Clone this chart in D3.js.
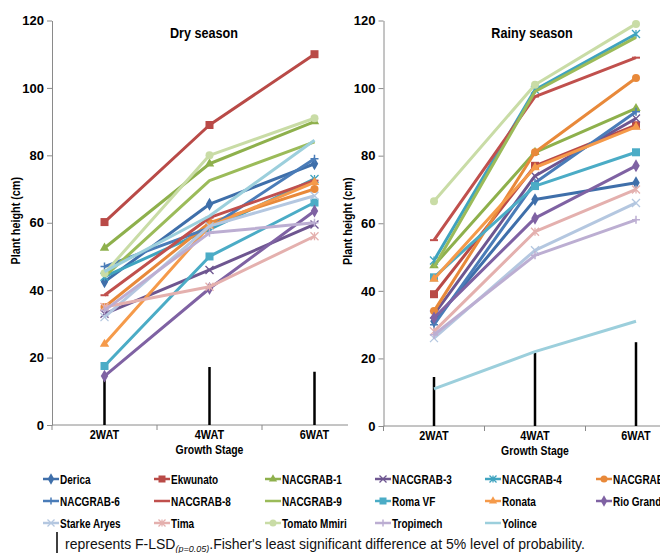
<!DOCTYPE html>
<html>
<head>
<meta charset="utf-8">
<script src="https://cdn.jsdelivr.net/npm/d3@7"></script>
<style>
  html, body { margin: 0; padding: 0; background: #fff; }
  svg { display: block; }
  .tick text { font-family: "Liberation Sans", Arial, sans-serif; font-weight: bold; font-size: 13px; fill: #000; }
</style>
</head>
<body>
<svg id="chart" width="660" height="553"></svg>
<script>
// Growth stages (weeks after transplanting)
const stages = ["2WAT", "4WAT", "6WAT"];
const yTicks = [0, 20, 40, 60, 80, 100, 120];

// Variety names, in legend order
const varieties = ["Derica", "Ekwunato", "NACGRAB-1", "NACGRAB-3", "NACGRAB-4", "NACGRAB-5",
  "NACGRAB-6", "NACGRAB-8", "NACGRAB-9", "Roma VF", "Ronata", "Rio Grande",
  "Starke Aryes", "Tima", "Tomato Mmiri", "Tropimech", "Yolince"];

// Plant height (cm), dry season, one row per variety
const dryHeights = [
  [42.5, 65.5, 77.5],
  [60.2, 89, 110],
  [52.5, 77.5, 90],
  [33, 46, 59.5],
  [44, 58, 73],
  [35, 60, 70],
  [47, 58.5, 79],
  [38.5, 61.5, 72.5],
  [44, 72.5, 84],
  [17.5, 50, 66],
  [24, 59, 72],
  [14.5, 40.5, 63.5],
  [32, 59, 68],
  [35, 41, 56],
  [45, 80, 91],
  [34, 57, 60],
  [45.5, 62, 84.5]
];

// Plant height (cm), rainy season
const rainyHeights = [
  [31, 67, 72],
  [39, 77, 89],
  [47.5, 81, 94],
  [33, 74, 91],
  [49, 99.5, 116],
  [34, 81, 103],
  [30, 72, 93],
  [55, 97.5, 109],
  [47, 99, 115],
  [44, 71, 81],
  [43.5, 76.5, 88.5],
  [32, 61.5, 77],
  [26, 52, 66],
  [28, 57.5, 70],
  [66.5, 101, 119],
  [27, 50.5, 61],
  [11, 22, 31]
];

// F-LSD (p=0.05) at each stage
const dryLSD = [14, 17.2, 15.8];
const rainyLSD = [14.5, 21.6, 24.8];

// Series styling
const colors = ["#3f6faa", "#b94a47", "#8eb04c", "#6e5690", "#3fa3bf", "#e8893a",
  "#4a7cb8", "#c0504d", "#9bbb59", "#4bacc6", "#f59a4a", "#7f62a3",
  "#b4c7e0", "#e4b0ae", "#c9dca6", "#bcaed2", "#9ccfdc"];
const markers = ["diamond", "square", "triangle", "x", "asterisk", "circle",
  "plus", "dash", "none", "square", "triangle", "diamond",
  "x", "asterisk", "circle", "plus", "none"];

const svg = d3.select("#chart");
const sans = "'Liberation Sans', Arial, sans-serif";

function drawMarker(g, type, x, y, color, size) {
  const s = size;
  switch (type) {
    case "diamond":
      g.append("path").attr("d", d3.symbol(d3.symbolDiamond, s * s * 0.75)())
        .attr("transform", `translate(${x},${y})`).attr("fill", color);
      break;
    case "square":
      g.append("rect").attr("x", x - s / 2).attr("y", y - s / 2).attr("width", s).attr("height", s).attr("fill", color);
      break;
    case "triangle":
      g.append("path").attr("d", d3.symbol(d3.symbolTriangle, s * s * 0.6)())
        .attr("transform", `translate(${x},${y})`).attr("fill", color);
      break;
    case "circle":
      g.append("circle").attr("cx", x).attr("cy", y).attr("r", s / 2).attr("fill", color);
      break;
    case "x":
      g.append("path").attr("d", `M${x - s / 2},${y - s / 2}L${x + s / 2},${y + s / 2}M${x - s / 2},${y + s / 2}L${x + s / 2},${y - s / 2}`)
        .attr("stroke", color).attr("stroke-width", 1.3);
      break;
    case "asterisk":
      g.append("path").attr("d", `M${x - s / 2},${y - s / 2}L${x + s / 2},${y + s / 2}M${x - s / 2},${y + s / 2}L${x + s / 2},${y - s / 2}M${x},${y - s / 2}L${x},${y + s / 2}`)
        .attr("stroke", color).attr("stroke-width", 1.3);
      break;
    case "plus":
      g.append("path").attr("d", `M${x - s / 2},${y}L${x + s / 2},${y}M${x},${y - s / 2}L${x},${y + s / 2}`)
        .attr("stroke", color).attr("stroke-width", 1.5);
      break;
    case "dash":
      g.append("path").attr("d", `M${x - s / 2},${y}L${x + s / 2},${y}`)
        .attr("stroke", color).attr("stroke-width", 2);
      break;
  }
}

// Condensed bold label: bold sans squeezed horizontally
function narrowText(g, x, y, txt, size, anchor, sx) {
  return g.append("text").attr("transform", `translate(${x},${y}) scale(${sx || 0.87},1)`)
    .attr("text-anchor", anchor || "start").attr("font-family", sans).attr("font-weight", "bold")
    .attr("font-size", size).text(txt);
}

function panel(opts) {
  const { left, right, top, bottom, axisEnd, data, lsd, title, titleX, ylabelX } = opts;
  const x = d3.scalePoint().domain(stages).range([left, right]).padding(0.5);
  const y = d3.scaleLinear().domain([0, 120]).range([bottom, top]);
  const g = svg.append("g");

  // y axis
  const ya = g.append("g").attr("transform", `translate(${left},0)`)
    .call(d3.axisLeft(y).tickValues(yTicks).tickSize(5).tickSizeOuter(0).tickPadding(3));
  ya.select(".domain").attr("stroke", "#8a8a8a");
  ya.selectAll(".tick line").attr("stroke", "#8a8a8a");

  // x axis
  const bandW = x.step();
  const xa = g.append("g").attr("transform", `translate(0,${bottom})`);
  xa.append("line").attr("x1", left).attr("x2", axisEnd).attr("y1", 0).attr("y2", 0).attr("stroke", "#8a8a8a");
  stages.forEach((s, i) => {
    const tx = left + bandW * i;
    if (tx < axisEnd) xa.append("line").attr("x1", tx).attr("x2", tx).attr("y1", 0).attr("y2", 5).attr("stroke", "#8a8a8a");
    narrowText(xa, x(s), 14, s, 12.5, "middle");
  });
  narrowText(xa, x("4WAT"), 28.5, "Growth Stage", 12, "middle");

  // y label
  g.append("text").attr("transform", `translate(${ylabelX},${(top + bottom) / 2 - 2}) rotate(-90) scale(0.9,1)`)
    .attr("text-anchor", "middle").attr("font-family", sans).attr("font-weight", "bold").attr("font-size", 12)
    .text("Plant height (cm)");

  // title
  narrowText(g, titleX, 38, title, 14.5, "middle");

  // LSD bars
  g.selectAll(".lsd").data(lsd).enter().append("line")
    .attr("x1", (d, i) => x(stages[i])).attr("x2", (d, i) => x(stages[i]))
    .attr("y1", y(0)).attr("y2", d => y(d)).attr("stroke", "#000").attr("stroke-width", 2.5);

  // series lines and markers
  const line = d3.line().x((d, i) => x(stages[i])).y(d => y(d));
  data.forEach((vals, k) => {
    const sg = g.append("g");
    sg.append("path").attr("d", line(vals)).attr("fill", "none")
      .attr("stroke", colors[k]).attr("stroke-width", 3).attr("stroke-linejoin", "round");
    vals.forEach((v, i) => drawMarker(sg, markers[k], x(stages[i]), y(v), colors[k], 8));
  });
}

panel({ left: 52, right: 367, top: 20.5, bottom: 425, axisEnd: 348, data: dryHeights, lsd: dryLSD,
  title: "Dry season", titleX: 204, ylabelX: 20 });
panel({ left: 383.5, right: 686.5, top: 20.5, bottom: 426, axisEnd: 660, data: rainyHeights, lsd: rainyLSD,
  title: "Rainy season", titleX: 532, ylabelX: 352 });

// legend, six columns
const legend = svg.append("g");
const colX = [43, 154, 265, 375, 485, 596];
const rowY = [479, 501, 523];
varieties.forEach((name, k) => {
  const cx = colX[k % 6], cy = rowY[Math.floor(k / 6)];
  const lg = legend.append("g");
  lg.append("line").attr("x1", cx).attr("x2", cx + 16).attr("y1", cy).attr("y2", cy)
    .attr("stroke", colors[k]).attr("stroke-width", 2.5);
  drawMarker(lg, markers[k], cx + 8, cy, colors[k], 7);
  narrowText(lg, cx + 17, cy + 4.5, name, 12.5, "start", 0.8);
});

// footnote
svg.append("line").attr("x1", 57).attr("x2", 57).attr("y1", 532).attr("y2", 553).attr("stroke", "#000").attr("stroke-width", 1.5);
const foot = svg.append("text").attr("x", 65).attr("y", 549).attr("font-family", sans)
  .attr("font-size", 14).attr("fill", "#111");
foot.append("tspan").text("represents F-LSD");
foot.append("tspan").attr("font-size", 9).attr("font-style", "italic").attr("dy", 3).text("(p=0.05)");
foot.append("tspan").attr("dy", -3).text(".Fisher's least significant difference at 5% level of probability.");
</script>
</body>
</html>
